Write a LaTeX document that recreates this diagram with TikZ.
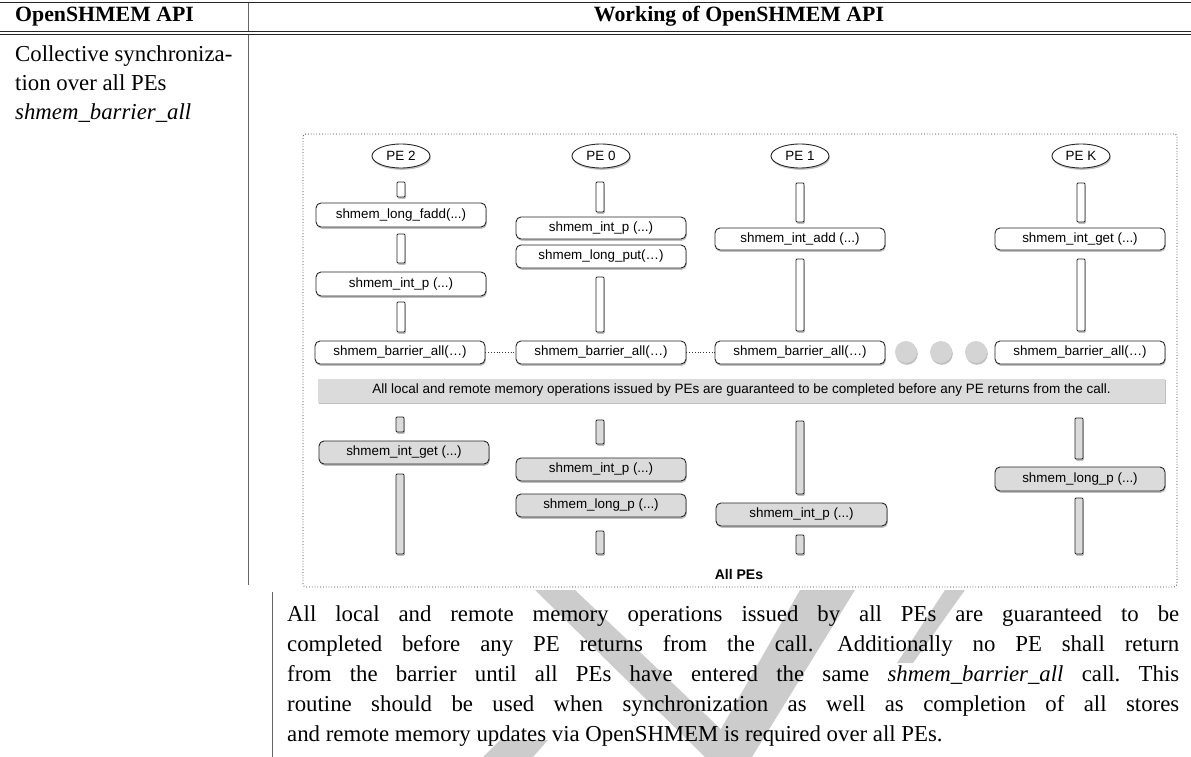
\documentclass[tikz,border=0pt]{standalone}
\usepackage{fontspec}
\setmainfont{Liberation Serif}
\setsansfont{Liberation Sans}
\usetikzlibrary{shapes.geometric,shadows}
\tikzset{
  shad/.style={drop shadow={shadow xshift=0.8pt, shadow yshift=-1.8pt, opacity=0.5}},
  callbox/.style={draw=black!85, line width=0.9pt, rounded corners=5pt, fill=white,
    minimum width=170pt, minimum height=23pt, inner sep=0pt,
    font=\sffamily\fontsize{13.4}{14}\selectfont, shad},
  callboxg/.style={callbox, fill=black!14},
  bar/.style={draw=black!85, line width=0.8pt, fill=white, minimum width=8pt,
    inner sep=0pt, rounded corners=1pt, shad},
  barg/.style={bar, fill=black!14},
  pe/.style={ellipse, draw=black!85, line width=0.9pt, fill=white, minimum width=58pt,
    minimum height=24pt, inner sep=0pt, font=\sffamily\fontsize{13.4}{14}\selectfont, shad},
  dot/.style={circle, fill=black!17, minimum size=22pt, inner sep=0pt, shad},
  body/.style={inner sep=0pt, anchor=base west, font=\fontsize{22.8}{27}\selectfont\frenchspacing},
  head/.style={inner sep=0pt, anchor=base, font=\bfseries\fontsize{21.8}{26}\selectfont},
  wm/.style={fill=black!20, draw=none},
  rule/.style={line width=1.6pt, draw=black!85},
  vline/.style={line width=0.9pt, draw=black!60},
  link/.style={dotted, line width=0.8pt, draw=black!80}
}
\begin{document}
\begin{tikzpicture}[x=1pt,y=-1pt]
\useasboundingbox (0,0) rectangle (1191,757);
% watermark
\fill[wm] (535,590) -- (575,590) -- (750,757) -- (705,757) -- cycle;
\fill[wm] (800,590) -- (855,590) -- (752,757) -- (705,757) -- cycle;
\fill[wm] (945,590) -- (965,590) -- (913,663) -- (897,663) -- cycle;
\fill[wm] (483,757) -- (500,740) -- (548,740) -- (533,757) -- cycle;
% table rules
\draw[rule] (0,2.5) -- (1191,2.5);
\draw[line width=0.8pt, draw=black!85] (0,31.5) -- (1191,31.5);
\draw[rule] (0,34.5) -- (1191,34.5);
\draw[vline] (248,3) -- (248,31);
\draw[vline] (248,35) -- (248,585);
\draw[vline] (272,592) -- (272,757);
% header
\node[head, anchor=base west] (h1) at (15,22) {OpenSHMEM API};
\node[head] (h2) at (739,22) {Working of OpenSHMEM API};
% left column
\node[body] (l1) at (15,62) {Collective synchroniza-};
\node[body] (l2) at (15,91) {tion over all PEs};
\node[body] (l3) at (15,120) {\itshape shmem\_barrier\_all};
% diagram frame
\node[draw=black!80, dotted, line width=0.8pt, rounded corners=3pt, minimum width=874pt,
  minimum height=453pt, inner sep=0pt] (frame) at (740,360.5) {};
% PEs
\node[pe] (pe2) at (401,156) {PE 2};
\node[pe] (pe0) at (601,156) {PE 0};
\node[pe] (pe1) at (800,156) {PE 1};
\node[pe] (pek) at (1081,156) {PE K};
% upper bars
\node[bar, minimum height=15pt] (u21) at (401,189.5) {};
\node[bar, minimum height=29pt] (u22) at (401,248.5) {};
\node[bar, minimum height=30pt] (u23) at (401,317) {};
\node[bar, minimum height=30pt] (u01) at (600,197) {};
\node[bar, minimum height=55pt] (u02) at (600,304.5) {};
\node[bar, minimum height=39pt] (u11) at (800,202.5) {};
\node[bar, minimum height=72pt] (u12) at (800,295) {};
\node[bar, minimum height=39pt] (uk1) at (1081,202.5) {};
\node[bar, minimum height=72pt] (uk2) at (1081,295) {};
% upper calls
\node[callbox, minimum height=24pt] (c21) at (401,215) {shmem\_long\_fadd(...)};
\node[callbox, minimum height=24pt] (c22) at (401,284) {shmem\_int\_p (...)};
\node[callbox] (b2) at (400,352.5) {shmem\_barrier\_all(…)};
\node[callbox, minimum height=22pt] (c01) at (601,228) {shmem\_int\_p (...)};
\node[callbox] (c02) at (601,256.5) {shmem\_long\_put(…)};
\node[callbox] (b0) at (601,352.5) {shmem\_barrier\_all(…)};
\node[callbox, minimum height=22pt] (c11) at (800,239) {shmem\_int\_add (...)};
\node[callbox] (b1) at (800,352.5) {shmem\_barrier\_all(…)};
\node[callbox, minimum height=22pt] (ck1) at (1080,239) {shmem\_int\_get (...)};
\node[callbox] (bk) at (1080,352.5) {shmem\_barrier\_all(…)};
\draw[link] (b2.east) -- (b0.west);
\draw[link] (b0.east) -- (b1.west);
\node[dot] (d1) at (906,352) {};
\node[dot] (d2) at (941,352) {};
\node[dot] (d3) at (976,352) {};
% banner
\node[fill=black!14, minimum width=847pt, minimum height=24pt, inner sep=0pt, shad,
  font=\sffamily\fontsize{13.5}{14}\selectfont] (note) at (741.5,390.5)
  {All local and remote memory operations issued by PEs are guaranteed to be completed before any PE returns from the call.};
% lower bars
\node[barg, minimum height=15pt] (l21) at (400,424.5) {};
\node[barg, minimum height=80pt] (l22) at (400,514) {};
\node[barg, minimum height=24pt] (l01) at (600,432) {};
\node[barg, minimum height=23pt] (l02) at (600,542.5) {};
\node[barg, minimum height=73pt] (l11) at (800,457.5) {};
\node[barg, minimum height=19pt] (l12) at (800,544.5) {};
\node[barg, minimum height=41pt] (lk1) at (1079,438.5) {};
\node[barg, minimum height=56pt] (lk2) at (1079,526) {};
% lower calls
\node[callboxg] (g21) at (404,452.5) {shmem\_int\_get (...)};
\node[callboxg] (g01) at (601,469.5) {shmem\_int\_p (...)};
\node[callboxg] (g02) at (601,505.5) {shmem\_long\_p (...)};
\node[callboxg, minimum width=171pt] (g11) at (801.5,514.5) {shmem\_int\_p (...)};
\node[callboxg, minimum height=24pt] (gk1) at (1080,479) {shmem\_long\_p (...)};
\node[font=\sffamily\bfseries\fontsize{14}{16}\selectfont, inner sep=0pt] (allpes) at (739,574) {All PEs};
% paragraph
\node[body] (p1) at (287,621) {\makebox[892pt][s]{All local and remote memory operations issued by all PEs are guaranteed to be}};
\node[body] (p2) at (287,651) {\makebox[892pt][s]{completed before any PE returns from the call.\kern4pt{} Additionally no PE shall return}};
\node[body] (p3) at (287,681) {\makebox[892pt][s]{from the barrier until all PEs have entered the same \textit{shmem\_barrier\_all} call. This}};
\node[body] (p4) at (287,711) {\makebox[892pt][s]{routine should be used when synchronization as well as completion of all stores}};
\node[body] (p5) at (287,741) {and remote memory updates via OpenSHMEM is required over all PEs.};
\end{tikzpicture}
\end{document}
